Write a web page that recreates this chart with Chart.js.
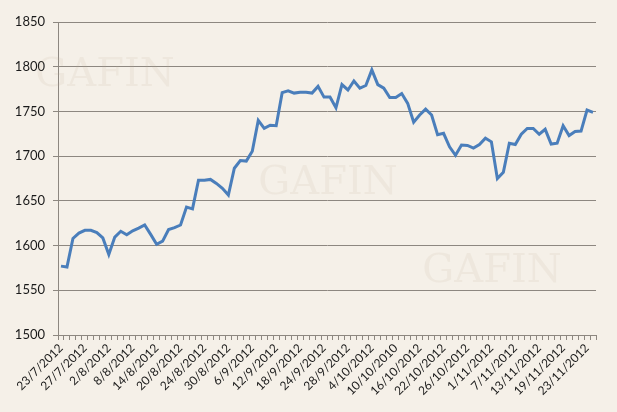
<!DOCTYPE html>
<html>
<head>
<meta charset="utf-8">
<script src="https://cdn.jsdelivr.net/npm/chart.js@4"></script>
<style>
  html, body { margin: 0; padding: 0; background: #f5f0e8; }
  #wrap { width: 617px; height: 412px; }
</style>
</head>
<body>
<div id="wrap"><canvas id="myChart" width="617" height="412"></canvas></div>
<script>
// trading days, a label is shown every 4th day (10/10/2010 is as in the original)
var dates = [
    "23/7/2012", "24/7/2012", "25/7/2012", "26/7/2012", "27/7/2012", "30/7/2012", "31/7/2012", "1/8/2012",
    "2/8/2012", "3/8/2012", "6/8/2012", "7/8/2012", "8/8/2012", "9/8/2012", "10/8/2012", "13/8/2012",
    "14/8/2012", "15/8/2012", "16/8/2012", "17/8/2012", "20/8/2012", "21/8/2012", "22/8/2012", "23/8/2012",
    "24/8/2012", "27/8/2012", "28/8/2012", "29/8/2012", "30/8/2012", "31/8/2012", "4/9/2012", "5/9/2012",
    "6/9/2012", "7/9/2012", "10/9/2012", "11/9/2012", "12/9/2012", "13/9/2012", "14/9/2012", "17/9/2012",
    "18/9/2012", "19/9/2012", "20/9/2012", "21/9/2012", "24/9/2012", "25/9/2012", "26/9/2012", "27/9/2012",
    "28/9/2012", "1/10/2012", "2/10/2012", "3/10/2012", "4/10/2012", "5/10/2012", "8/10/2012", "9/10/2012",
    "10/10/2010", "11/10/2012", "12/10/2012", "15/10/2012", "16/10/2012", "17/10/2012", "18/10/2012", "19/10/2012",
    "22/10/2012", "23/10/2012", "24/10/2012", "25/10/2012", "26/10/2012", "29/10/2012", "30/10/2012", "31/10/2012",
    "1/11/2012", "2/11/2012", "5/11/2012", "6/11/2012", "7/11/2012", "8/11/2012", "9/11/2012", "12/11/2012",
    "13/11/2012", "14/11/2012", "15/11/2012", "16/11/2012", "19/11/2012", "20/11/2012", "21/11/2012", "22/11/2012",
    "23/11/2012", "26/11/2012"
];

var prices = [
    1577, 1576, 1608, 1614, 1617, 1617, 1614.5, 1608.5,
    1590, 1609.5, 1616, 1612, 1616.5, 1619.5, 1623, 1612.5,
    1601.5, 1605, 1618, 1620, 1623, 1643, 1641, 1673,
    1673, 1674, 1669.5, 1664, 1656.5, 1686.5, 1695, 1694.5,
    1705.5, 1740, 1731, 1734.5, 1734, 1771, 1773, 1770.5,
    1771.5, 1771.5, 1770.5, 1778, 1766, 1766, 1754, 1780,
    1774, 1784, 1776, 1779, 1796.5, 1780, 1776, 1765.5,
    1765.5, 1770, 1759, 1738, 1746, 1752.5, 1746, 1724,
    1725.5, 1710.5, 1701, 1712.5, 1712, 1709, 1713, 1720,
    1716, 1675, 1682, 1714.5, 1713, 1724.5, 1731, 1731,
    1724.5, 1730, 1713.5, 1714.5, 1734, 1723, 1727.5, 1728,
    1751.5, 1749
];

var yMin = 1500;
var yMax = 1850;
var yStep = 50;
var labelEvery = 4;

var watermarks = [
    { x: 105, y: 86 },
    { x: 328, y: 194 },
    { x: 492, y: 282 }
];

var axisColor = "#8d8780";

// faint logo text behind the line
var watermarkPlugin = {
    id: "watermark",
    beforeDatasetsDraw: function (chart) {
        var ctx = chart.ctx;
        ctx.save();
        ctx.fillStyle = "rgba(190,175,150,0.12)";
        ctx.font = "40px 'DejaVu Serif'";
        ctx.textAlign = "center";
        ctx.textBaseline = "alphabetic";
        for (var i = 0; i < watermarks.length; i++) {
            ctx.fillText("GAFIN", watermarks[i].x, watermarks[i].y);
        }
        ctx.restore();
    }
};

var ctx = document.getElementById("myChart").getContext("2d");
var myChart = new Chart(ctx, {
    type: "line",
    data: {
        labels: dates,
        datasets: [{
            data: prices,
            borderColor: "#4a7ebb",
            borderWidth: 3,
            pointRadius: 0,
            tension: 0,
            fill: false
        }]
    },
    options: {
        responsive: false,
        animation: false,
        layout: {
            padding: { top: 22, right: 21, left: 0, bottom: 0 }
        },
        plugins: {
            legend: { display: false },
            tooltip: { enabled: false }
        },
        scales: {
            x: {
                offset: true,
                afterFit: function (scale) { scale.height = 77; },
                grid: {
                    offset: true,
                    drawOnChartArea: false,
                    tickLength: 5,
                    color: axisColor
                },
                border: { display: true, color: axisColor, width: 1 },
                ticks: {
                    autoSkip: false,
                    minRotation: 45,
                    maxRotation: 45,
                    padding: 1,
                    color: "#1a1a1a",
                    font: { family: "Lato", size: 12 },
                    callback: function (val, i) {
                        return i % labelEvery === 0 ? dates[i] : "";
                    }
                }
            },
            y: {
                min: yMin,
                max: yMax,
                afterFit: function (scale) { scale.width = 58; },
                grid: {
                    color: axisColor,
                    tickLength: 5
                },
                border: { display: true, color: axisColor, width: 1 },
                ticks: {
                    stepSize: yStep,
                    padding: 8,
                    color: "#1a1a1a",
                    font: { family: "Lato", size: 13 },
                    callback: function (val) { return String(val); }
                }
            }
        }
    },
    plugins: [watermarkPlugin]
});
</script>
</body>
</html>
